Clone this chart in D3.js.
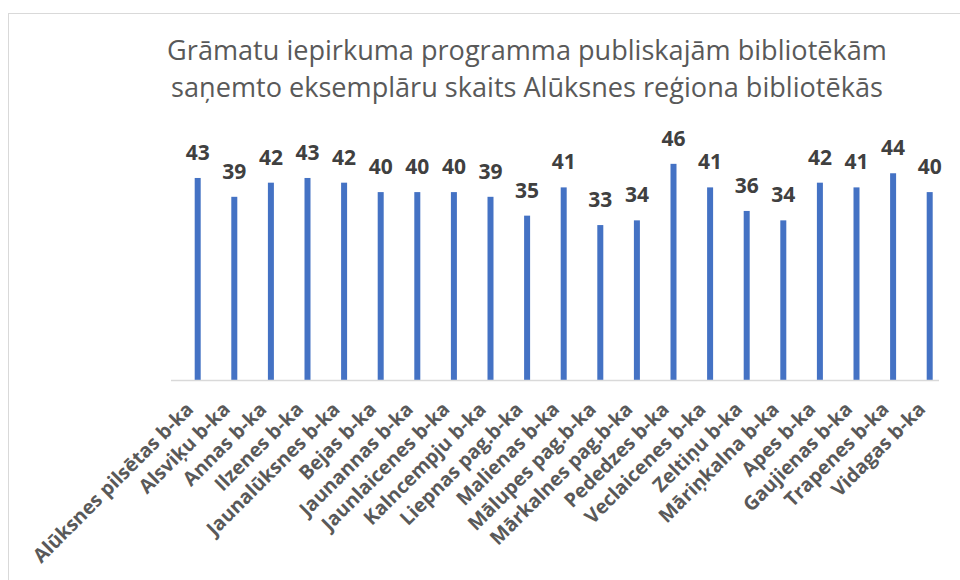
<!DOCTYPE html>
<html>
<head>
<meta charset="utf-8">
<script src="https://cdn.jsdelivr.net/npm/d3@7"></script>
<style>
  html, body { margin: 0; padding: 0; background: #fff; }
  svg { display: block; }
</style>
</head>
<body>
<svg id="chart" width="960" height="580"></svg>
<script>
const titleLines = [
  "Grāmatu iepirkuma programma publiskajām bibliotēkām",
  "saņemto eksemplāru skaits Alūksnes reģiona bibliotēkās"
];
const categories = [
  "Alūksnes pilsētas b-ka", "Alsviķu b-ka", "Annas b-ka", "Ilzenes b-ka",
  "Jaunalūksnes b-ka", "Bejas b-ka", "Jaunannas b-ka", "Jaunlaicenes b-ka",
  "Kalncempju b-ka", "Liepnas pag.b-ka", "Malienas b-ka", "Mālupes pag.b-ka",
  "Mārkalnes pag.b-ka", "Pededzes b-ka", "Veclaicenes b-ka", "Zeltiņu b-ka",
  "Māriņkalna b-ka", "Apes b-ka", "Gaujienas b-ka", "Trapenes b-ka", "Vidagas b-ka"
];
const values = [43, 39, 42, 43, 42, 40, 40, 40, 39, 35, 41, 33, 34, 46, 41, 36, 34, 42, 41, 44, 40];
const yDomain = [0, 50];

const svg = d3.select("#chart");
const font = "'Open Sans', 'Noto Sans', sans-serif";

// outer chart border (only top & left visible in frame)
svg.append("rect")
  .attr("x", 8.5).attr("y", 13.5)
  .attr("width", 1000).attr("height", 1000)
  .attr("fill", "#fff").attr("stroke", "#d9d9d9").attr("stroke-width", 1);

// title (two separate lines)
svg.append("g").selectAll("text")
  .data(titleLines)
  .join("text")
  .attr("x", 527)
  .attr("y", (d, i) => 59.5 + i * 37)
  .attr("text-anchor", "middle")
  .attr("fill", "#595959")
  .style("font-family", font)
  .style("font-size", "27.1px")
  .text(d => d);

const baseY = 380.5;
const x = d3.scaleBand().domain(categories).range([179.4, 948]).paddingInner(0).paddingOuter(0);
const y = d3.scaleLinear().domain(yDomain).range([baseY, baseY - 50 * 4.71]);

// bars
const barW = 6;
svg.append("g").selectAll("rect")
  .data(values)
  .join("rect")
  .attr("x", (d, i) => x(categories[i]) + x.bandwidth() / 2 - barW / 2)
  .attr("y", d => y(d))
  .attr("width", barW)
  .attr("height", d => y(0) - y(d))
  .attr("fill", "#4472c4");

// baseline (category axis line)
svg.append("line")
  .attr("x1", 171).attr("x2", 939)
  .attr("y1", baseY).attr("y2", baseY)
  .attr("stroke", "#d9d9d9").attr("stroke-width", 1.5);

// value labels
svg.append("g").selectAll("text")
  .data(values)
  .join("text")
  .attr("x", (d, i) => x(categories[i]) + x.bandwidth() / 2)
  .attr("y", d => y(d) - 18)
  .attr("text-anchor", "middle")
  .attr("fill", "#404040")
  .style("font-family", font)
  .style("font-weight", "bold")
  .style("font-size", "21px")
  .text(d => d);

// category labels
svg.append("g").selectAll("text")
  .data(categories)
  .join("text")
  .attr("transform", d => `translate(${x(d) + x.bandwidth() / 2 - 3},${baseY + 30}) rotate(-45)`)
  .attr("text-anchor", "end")
  .attr("fill", "#595959")
  .style("font-family", font)
  .style("font-weight", "bold")
  .style("font-size", "19.6px")
  .text(d => d);
</script>
</body>
</html>
